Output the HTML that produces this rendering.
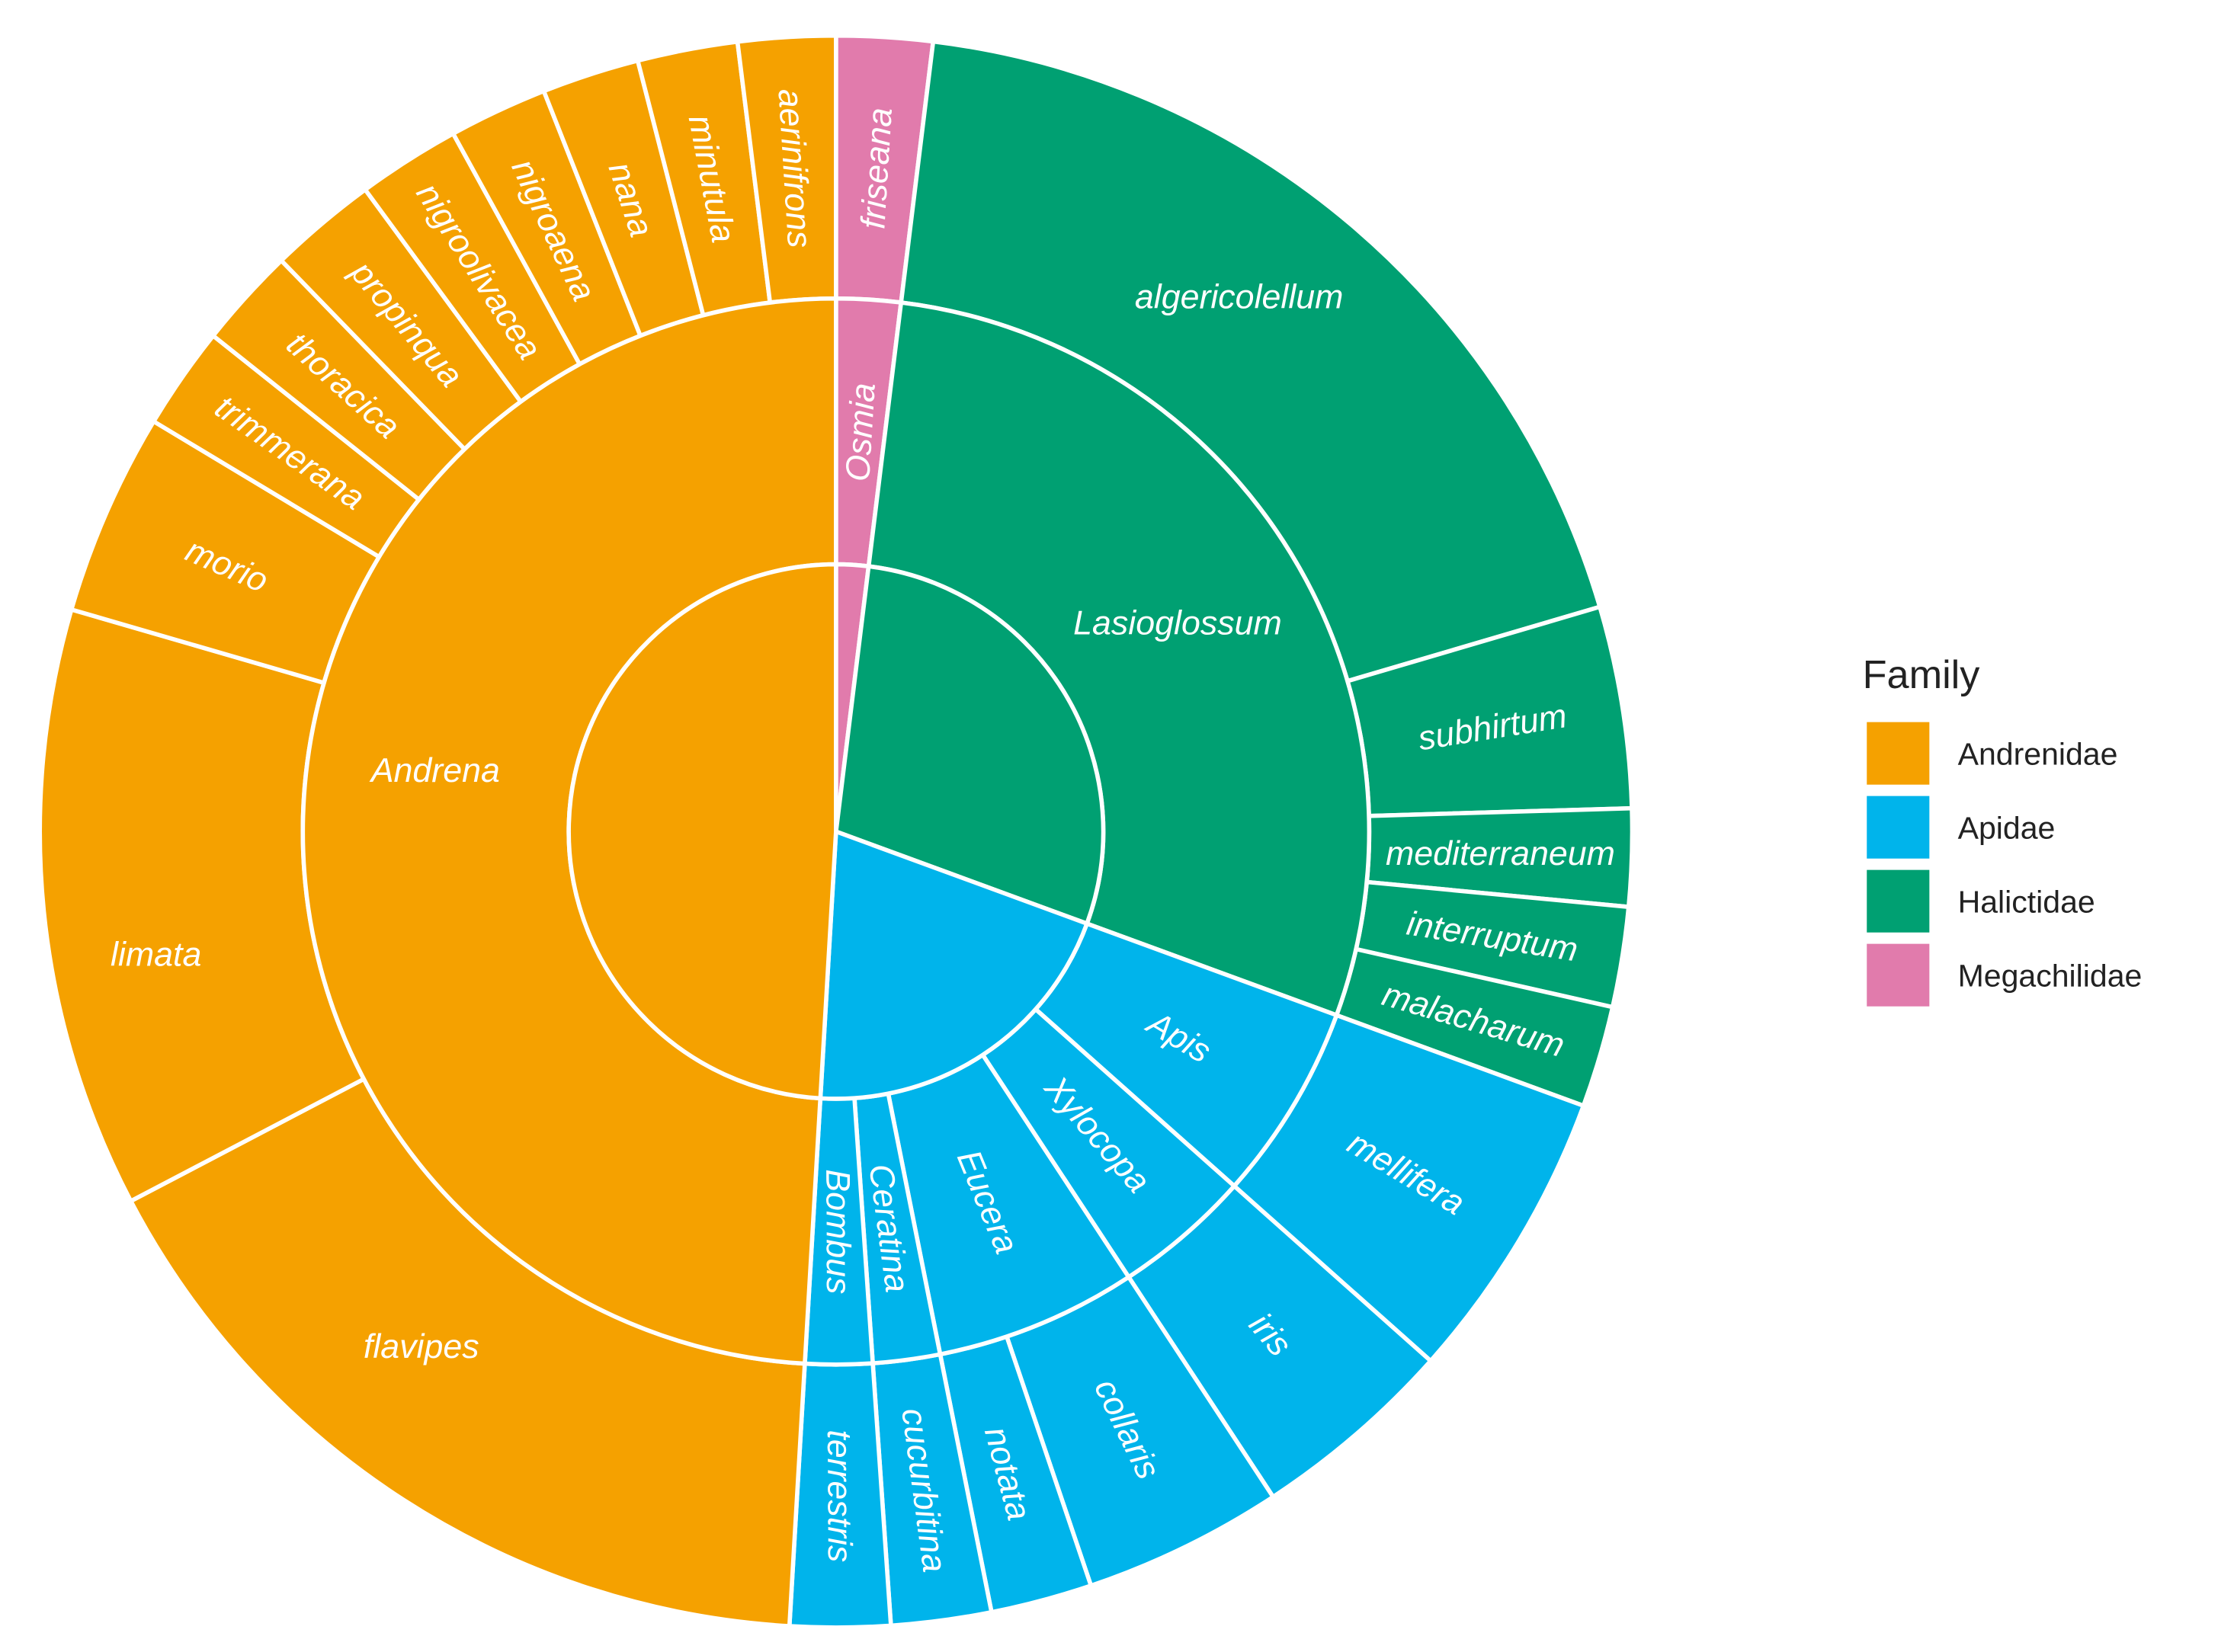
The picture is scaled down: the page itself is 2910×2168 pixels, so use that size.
<!DOCTYPE html>
<html><head><meta charset="utf-8">
<style>
html,body{margin:0;padding:0;background:#fff;}
svg{display:block;font-family:"Liberation Sans",sans-serif;}
</style></head>
<body>
<svg id="chart" width="2910" height="2168" viewBox="0 0 1560 1162.2" xmlns="http://www.w3.org/2000/svg">
<g id="rings"></g>
<g id="labels"></g>
<g id="legend">
<text x="1310" y="484" font-size="28" fill="#222">Family</text>
</g>
</svg>
<script>
const familyNames = ['Andrenidae','Apidae','Halictidae','Megachilidae'];
const familyColors = ['#F5A100','#00B4EB','#00A072','#E17BAC'];
// drawing order clockwise from 12 o'clock
const speciesNames = ['friseana','algericolellum','subhirtum','mediterraneum','interruptum','malacharum','mellifera','iris','collaris','notata','cucurbitina','terrestris','flavipes','limata','morio','trimmerana','thoracica','propinqua','nigroolivacea','nigroaena','nana','minutula','aerinifrons'];
const speciesGenus = ['Osmia','Lasioglossum','Lasioglossum','Lasioglossum','Lasioglossum','Lasioglossum','Apis','Xylocopa','Eucera','Eucera','Ceratina','Bombus','Andrena','Andrena','Andrena','Andrena','Andrena','Andrena','Andrena','Andrena','Andrena','Andrena','Andrena'];
const speciesValues = [7,66.5,14.7,7.1,7.3,7.4,21.5,15,14.6,7.4,7.3,7.3,58.9,43.8,14.8,7.5,7.3,7.9,7.5,7.2,7.1,7.3,7.1];
const genusNames = ['Osmia','Lasioglossum','Apis','Xylocopa','Eucera','Ceratina','Bombus','Andrena'];
const genusFamily = ['Megachilidae','Halictidae','Apidae','Apidae','Apidae','Apidae','Apidae','Andrenidae'];
const familyOrder = ['Megachilidae','Halictidae','Apidae','Andrenidae'];

const CX=588, CY=585, R0=0, R1=188, R2=375, R3=560;
const NS='http://www.w3.org/2000/svg';
const total = speciesValues.reduce((a,b)=>a+b,0);
const ang = v => v/total*360;
// label placement overrides: [angleOffsetFromMid, radius, horizontal]
const labelOverride = {
  'algericolellum':[-3.3,471,true],
  'mediterraneum':[0,null,true],
  'limata':[-4.5,486,true],
  'flavipes':[6,465,true],
  'Andrena':[7,285,true],
  'Lasioglossum':[0,null,true]
};
function pt(r,a){const t=a*Math.PI/180;return [CX+r*Math.sin(t),CY-r*Math.cos(t)];}
function wedge(r0,r1,a0,a1){
  const large=(a1-a0)>180?1:0;
  const [x1,y1]=pt(r1,a0),[x2,y2]=pt(r1,a1);
  if(r0===0){return `M${CX},${CY}L${x1},${y1}A${r1},${r1} 0 ${large} 1 ${x2},${y2}Z`;}
  const [x3,y3]=pt(r0,a1),[x4,y4]=pt(r0,a0);
  return `M${x1},${y1}A${r1},${r1} 0 ${large} 1 ${x2},${y2}L${x3},${y3}A${r0},${r0} 0 ${large} 0 ${x4},${y4}Z`;
}
const rings=document.getElementById('rings'), labels=document.getElementById('labels');
function colorOfGenus(g){return familyColors[familyNames.indexOf(genusFamily[genusNames.indexOf(g)])];}
function drawSeg(r0,r1,a0,a1,col,name){
  const p=document.createElementNS(NS,'path');
  p.setAttribute('d',wedge(r0,r1,a0,a1));
  p.setAttribute('fill',col);p.setAttribute('stroke','#fff');p.setAttribute('stroke-width','3');
  
  
  rings.appendChild(p);
}
function drawLabel(txt,r,a,name){
  let horizontal=false;
  const o=labelOverride[txt];
  if(o){a+=o[0]; if(o[1])r=o[1]; horizontal=o[2];}
  const [x,y]=pt(r,a);
  let rot = horizontal?0:(a<180? a-90 : a-270);
  const t=document.createElementNS(NS,'text');
  t.setAttribute('x',x);t.setAttribute('y',y);
  t.setAttribute('transform',`rotate(${rot} ${x} ${y})`);
  t.setAttribute('text-anchor','middle');t.setAttribute('dominant-baseline','central');
  t.setAttribute('font-size','24');t.setAttribute('font-style','italic');t.setAttribute('fill','#fff');
  t.textContent=txt;
  
  
  labels.appendChild(t);
}
let a=0; const gStart={},gEnd={};
speciesNames.forEach((s,i)=>{
  const a0=a,a1=a+ang(speciesValues[i]);a=a1;
  const g=speciesGenus[i];
  if(!(g in gStart))gStart[g]=a0; gEnd[g]=a1;
  drawSeg(R2,R3,a0,a1,colorOfGenus(g),'species-'+s);
  drawLabel(s,(R2+R3)/2,(a0+a1)/2,'species-label-'+s);
});
const fStart={},fEnd={};
genusNames.forEach((g,i)=>{
  const a0=gStart[g],a1=gEnd[g],f=genusFamily[i];
  if(!(f in fStart))fStart[f]=a0; fEnd[f]=a1;
  drawSeg(R1,R2,a0,a1,colorOfGenus(g),'genus-'+g.toLowerCase());
  drawLabel(g,(R1+R2)/2,(a0+a1)/2,'genus-label-'+g.toLowerCase());
});
familyOrder.forEach(f=>{
  drawSeg(R0,R1,fStart[f],fEnd[f],familyColors[familyNames.indexOf(f)],'family-'+f.toLowerCase());
});
const leg=document.getElementById('legend');
familyNames.forEach((f,i)=>{
  const y=508+i*52;
  const r=document.createElementNS(NS,'rect');
  r.setAttribute('x',1313);r.setAttribute('y',y);r.setAttribute('width',44);r.setAttribute('height',44);
  r.setAttribute('fill',familyColors[i]);
  
  
  leg.appendChild(r);
  const t=document.createElementNS(NS,'text');
  t.setAttribute('x',1377);t.setAttribute('y',y+30);t.setAttribute('font-size','22');t.setAttribute('fill','#222');
  t.textContent=f;
  
  
  leg.appendChild(t);
});
</script>
</body></html>
